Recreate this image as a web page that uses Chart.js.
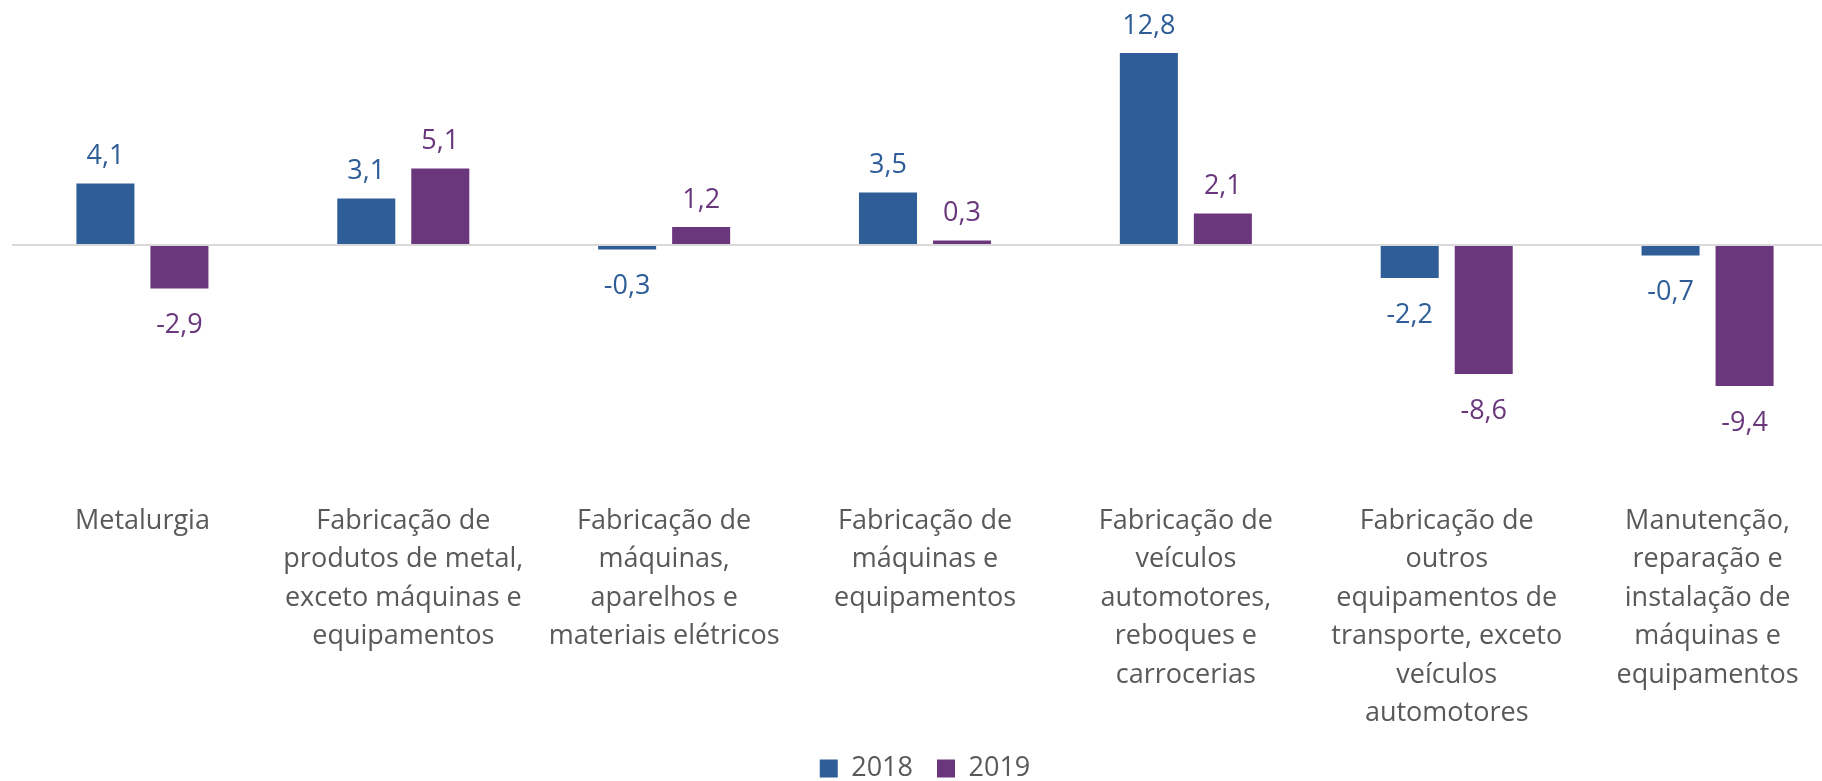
<!DOCTYPE html>
<html lang="pt-BR">
<head>
    <meta charset="UTF-8">
    <title>Variação por atividade 2018-2019</title>
    <style>
        html, body {
            margin: 0;
            padding: 0;
            background: #ffffff;
            overflow: hidden;
        }
        .chart-box {
            position: relative;
            width: 1850px;   /* o gráfico original é um pouco mais largo que a janela */
            height: 792px;
        }
    </style>
</head>
<body>
    <div class="chart-box">
        <canvas id="grafico"></canvas>
    </div>

    <script src="https://cdn.jsdelivr.net/npm/chart.js"></script>
    <script>
        // categorias (já quebradas em linhas como no original)
        const categorias = [
            ['Metalurgia'],
            ['Fabricação de', 'produtos de metal,', 'exceto máquinas e', 'equipamentos'],
            ['Fabricação de', 'máquinas,', 'aparelhos e', 'materiais elétricos'],
            ['Fabricação de', 'máquinas e', 'equipamentos'],
            ['Fabricação de', 'veículos', 'automotores,', 'reboques e', 'carrocerias'],
            ['Fabricação de', 'outros', 'equipamentos de', 'transporte, exceto', 'veículos', 'automotores'],
            ['Manutenção,', 'reparação e', 'instalação de', 'máquinas e', 'equipamentos']
        ];

        const anos = ['2018', '2019'];
        const valores2018 = [4.1, 3.1, -0.3, 3.5, 12.8, -2.2, -0.7];
        const valores2019 = [-2.9, 5.1, 1.2, 0.3, 2.1, -8.6, -9.4];

        const corAzul = '#2E5D97';
        const corRoxo = '#6A367C';
        const corTexto = '#595959';

        const fmt = v => v.toFixed(1).replace('.', ',');

        // rótulos de valor acima/abaixo de cada barra
        const rotulosValor = {
            id: 'rotulosValor',
            afterDatasetsDraw(chart) {
                const ctx = chart.ctx;
                ctx.save();
                ctx.font = '27px "Open Sans"';
                ctx.textAlign = 'center';
                ctx.textBaseline = 'alphabetic';
                chart.data.datasets.forEach((ds, i) => {
                    const meta = chart.getDatasetMeta(i);
                    ctx.fillStyle = ds.backgroundColor;
                    meta.data.forEach((bar, j) => {
                        const v = ds.data[j];
                        const y = v >= 0 ? bar.y - 19 : bar.y + 45;
                        ctx.fillText(fmt(v), bar.x, y);
                    });
                });
                ctx.restore();
            }
        };

        const ctx = document.getElementById('grafico').getContext('2d');

        new Chart(ctx, {
            type: 'bar',
            data: {
                labels: categorias,
                datasets: [
                    {
                        label: anos[0],
                        data: valores2018,
                        backgroundColor: corAzul,
                        categoryPercentage: 0.5675,
                        barPercentage: 0.784
                    },
                    {
                        label: anos[1],
                        data: valores2019,
                        backgroundColor: corRoxo,
                        categoryPercentage: 0.5675,
                        barPercentage: 0.784
                    }
                ]
            },
            options: {
                responsive: true,
                maintainAspectRatio: false,
                animation: false,
                layout: {
                    padding: { left: 12, right: 12, top: 0, bottom: 0 }
                },
                scales: {
                    x: {
                        grid: { display: false },
                        border: { display: false },
                        ticks: {
                            padding: 8,
                            color: corTexto,
                            maxRotation: 0,
                            autoSkip: false,
                            font: { family: 'Open Sans', size: 27, lineHeight: 1.426 }
                        },
                        afterFit(scale) {
                            scale.height = 245; // espaço fixo para os rótulos de 6 linhas
                        }
                    },
                    y: {
                        min: -16.07,
                        max: 16.33,
                        border: { display: false },
                        ticks: { display: false, stepSize: 5 },
                        grid: {
                            drawTicks: false,
                            lineWidth: 2,
                            color: c => c.tick && c.tick.value === 0 ? '#D9D9D9' : 'rgba(0,0,0,0)'
                        }
                    }
                },
                plugins: {
                    legend: {
                        position: 'bottom',
                        labels: {
                            boxWidth: 18,
                            boxHeight: 18,
                            padding: 24,
                            color: corTexto,
                            font: { family: 'Open Sans', size: 27 }
                        }
                    },
                    tooltip: { enabled: false }
                }
            },
            plugins: [rotulosValor]
        });
    </script>
</body>
</html>
